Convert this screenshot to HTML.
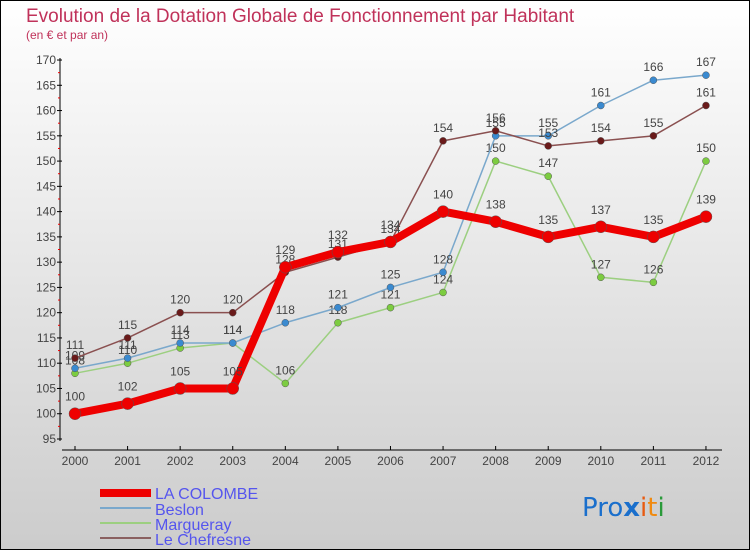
<!DOCTYPE html>
<html><head><meta charset="utf-8"><style>
body{margin:0;width:750px;height:550px;overflow:hidden;font-family:"Liberation Sans",sans-serif}
</style></head><body>
<svg width="750" height="550" xmlns="http://www.w3.org/2000/svg" font-family="Liberation Sans, sans-serif">
<defs><linearGradient id="bg" x1="0" y1="0" x2="0" y2="1"><stop offset="0" stop-color="#ffffff"/><stop offset="1" stop-color="#cccccc"/></linearGradient></defs>
<rect x="0.5" y="0.5" width="749" height="549" fill="url(#bg)" stroke="#000"/>
<text x="26" y="22" font-size="19" fill="#c0325a">Evolution de la Dotation Globale de Fonctionnement par Habitant</text>
<text x="26" y="39" font-size="12" fill="#c0325a">(en € et par an)</text>
<g id="axes"></g><g id="series"></g>
<g font-size="16" fill="#5555ee">
<rect x="100" y="489" width="51" height="8" fill="#e00"/><text x="155" y="499" fill="#5555ee">LA COLOMBE</text>
<rect x="100" y="507" width="51" height="2" fill="#7aa8cc"/><text x="155" y="515" fill="#5555ee">Beslon</text>
<rect x="100" y="522" width="51" height="2" fill="#9ccf80"/><text x="155" y="530" fill="#5555ee">Margueray</text>
<rect x="100" y="537" width="51" height="2" fill="#8a6060"/><text x="155" y="545" fill="#5555ee">Le Chefresne</text>
</g>
<g font-size="26" font-family="DejaVu Sans, sans-serif">
<text x="582" y="516"><tspan fill="#1a6fcc">Pro</tspan><tspan fill="#1a6fcc" font-weight="bold">x</tspan><tspan fill="#e85a10">i</tspan><tspan fill="#f08a10">t</tspan><tspan fill="#2a9a3a">i</tspan></text>
</g>
</svg>
<script>
const years=[2000,2001,2002,2003,2004,2005,2006,2007,2008,2009,2010,2011,2012];
const yTicks=[95,100,105,110,115,120,125,130,135,140,145,150,155,160,165,170];
const colombe=[100,102,105,105,129,132,134,140,138,135,137,135,139];
const beslon=[109,111,114,114,118,121,125,128,155,155,161,166,167];
const margueray=[108,110,113,114,106,118,121,124,150,147,127,126,150];
const chefresne=[111,115,120,120,128,131,134,154,156,153,154,155,161];
const NS="http://www.w3.org/2000/svg";
function X(i){return 75+i*52.58;}
function Y(v){return 439-(v-95)*5.053;}
function mk(t,a,p){const e=document.createElementNS(NS,t);for(const k in a)e.setAttribute(k,a[k]);p.appendChild(e);return e;}
const ax=document.getElementById('axes');
let l=mk('line',{x1:60,y1:58,x2:60,y2:441,stroke:'#000'},ax);

l=mk('line',{x1:62,y1:450,x2:722,y2:450,stroke:'#000'},ax);

yTicks.forEach(v=>{mk('line',{x1:57,y1:Y(v),x2:62,y2:Y(v),stroke:'#000'},ax);
 if(v<170)mk('line',{x1:58,y1:Y(v+2.5),x2:60,y2:Y(v+2.5),stroke:'#e00'},ax);
 const t=mk('text',{x:56,y:Y(v)+4,'font-size':12,fill:'#444','text-anchor':'end'},ax);t.textContent=v;
 });
years.forEach((y,i)=>{mk('line',{x1:X(i),y1:446,x2:X(i),y2:450,stroke:'#000'},ax);
 const t=mk('text',{x:X(i),y:465,'font-size':12,fill:'#444','text-anchor':'middle'},ax);t.textContent=y;
 });
const sg=document.getElementById('series');
function draw(d,name,col,dot,w,r,lab){const g=mk('g',{},sg);
 
 mk('polyline',{points:d.map((v,i)=>X(i)+','+Y(v)).join(' '),fill:'none',stroke:col,'stroke-width':w,'stroke-linejoin':'round'},g);
 d.forEach((v,i)=>{const c=mk('circle',{cx:X(i),cy:Y(v),r:r,fill:dot,stroke:'#555','stroke-width':0.5},g);
  
  const t=mk('text',{x:X(i),y:Y(v)-lab,'font-size':12,fill:'#444','text-anchor':'middle'},g);t.textContent=v;});}
draw(margueray,'series-margueray','#9ccf80','#7ccc40',1.5,3.5,9);
draw(beslon,'series-beslon','#7aa8cc','#3a8ad0',1.5,3.5,9);
draw(chefresne,'series-le-chefresne','#8a5050','#6a1a1a',1.5,3.5,9);
draw(colombe,'series-la-colombe','#ee0000','#ee0000',8,6,13);
</script>
</body></html>
